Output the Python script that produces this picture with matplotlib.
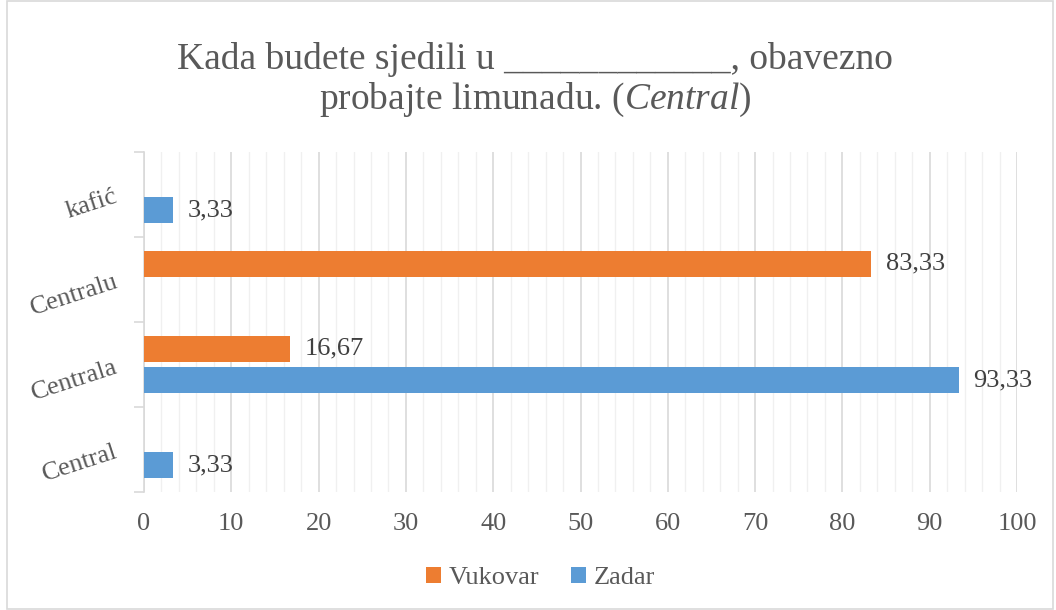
import numpy as np
import matplotlib.pyplot as plt
from matplotlib.patches import Rectangle
from matplotlib.ticker import MultipleLocator

plt.rcParams['font.family'] = ['Liberation Serif', 'DejaVu Serif']
plt.rcParams['mathtext.fontset'] = 'custom'
plt.rcParams['mathtext.rm'] = 'Liberation Serif'
plt.rcParams['mathtext.it'] = 'Liberation Serif:italic'

categories = ['Central', 'Centrala', 'Centralu', 'kafić']
vukovar = [0, 16.67, 83.33, 0]
zadar = [3.33, 93.33, 0, 3.33]
labels_vukovar = ['', '16,67', '83,33', '']
labels_zadar = ['3,33', '93,33', '', '3,33']

orange = '#ED7D31'
blue = '#5B9BD5'
txt = '#595959'

fig = plt.figure(figsize=(10.56, 6.10), dpi=100)
ax = fig.add_axes([144 / 1056, 1 - 492 / 610, (1017 - 144) / 1056, 340 / 610])

y = np.arange(len(categories))
h = 0.31
off = 0.185
ax.barh(y + off, vukovar, height=h, color=orange, label='Vukovar', zorder=3)
ax.barh(y - off, zadar, height=h, color=blue, label='Zadar', zorder=3)

# data labels just right of each bar
for yi, v, lab in zip(y, vukovar, labels_vukovar):
    if lab:
        ax.text(v + 1.7, yi + off, lab, va='center', ha='left', fontsize=19, color='#404040')
for yi, v, lab in zip(y, zadar, labels_zadar):
    if lab:
        ax.text(v + 1.7, yi - off, lab, va='center', ha='left', fontsize=19, color='#404040')

ax.set_xlim(0, 100)
ax.set_ylim(-0.5, len(categories) - 0.5)
ax.xaxis.set_major_locator(MultipleLocator(10))
ax.xaxis.set_minor_locator(MultipleLocator(2))
ax.grid(which='major', axis='x', color='#D9D9D9', linewidth=1.2, zorder=0)
ax.grid(which='minor', axis='x', color='#F0F0F0', linewidth=1.0, zorder=0)
ax.tick_params(axis='x', which='both', length=0, labelsize=19, labelcolor=txt, pad=15)

ax.set_yticks(y)
ax.set_yticklabels(categories, rotation=18, fontsize=19, color=txt)
ax.set_yticks(np.arange(-0.5, len(categories)), minor=True)
ax.tick_params(axis='y', which='major', length=0, pad=17)
ax.tick_params(axis='y', which='minor', length=7, color='#D9D9D9', width=1.2)

for s in ['top', 'right', 'bottom']:
    ax.spines[s].set_visible(False)
ax.spines['left'].set_color('#D9D9D9')
ax.spines['left'].set_linewidth(1.2)

fig.text(0.507, 0.903, 'Kada budete sjedili u ____________, obavezno',
         ha='center', va='center', fontsize=27, color=txt)
fig.text(0.507, 0.836, r'probajte limunadu. ($\mathit{Central}$)',
         ha='center', va='center', fontsize=27, color=txt)

fig.legend(loc='center', bbox_to_anchor=(0.512, 0.052), ncol=2, frameon=False,
           fontsize=19, handlelength=0.55, handleheight=0.55, handletextpad=0.3,
           columnspacing=1.2, labelcolor=txt)

fig.patches.append(Rectangle((0.007, 0.002), 0.99, 0.996, transform=fig.transFigure,
                             fill=False, edgecolor='#D9D9D9', linewidth=1.2))

fig.savefig('out.png', dpi=100)
